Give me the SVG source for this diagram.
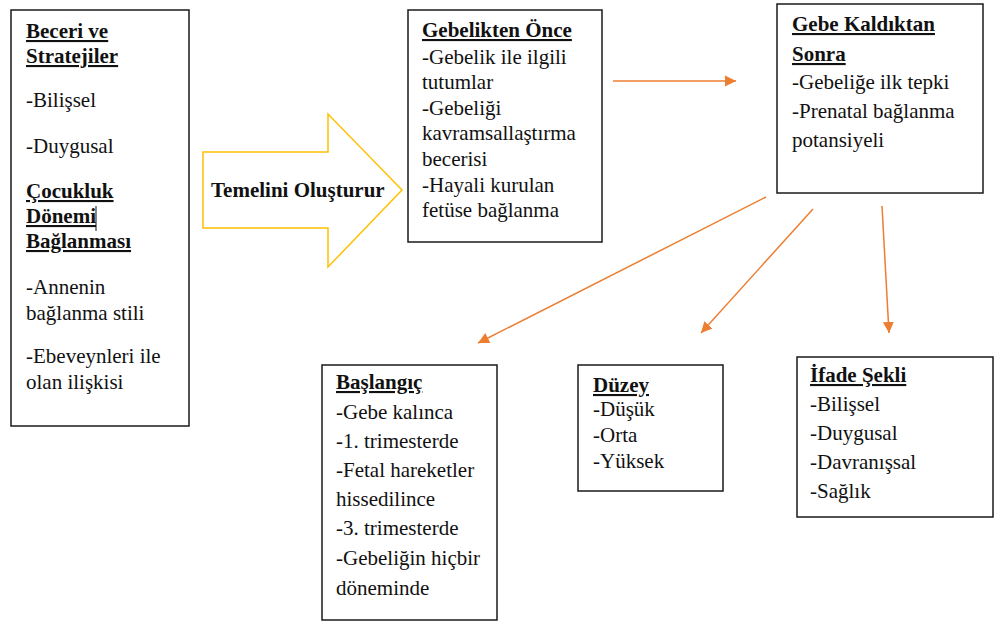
<svg xmlns="http://www.w3.org/2000/svg" width="994" height="621" viewBox="0 0 994 621" font-family="'Liberation Serif', 'DejaVu Serif', serif">
<style>
text{font-family:'Liberation Serif','DejaVu Serif',serif;font-size:21px;fill:#111}
.h{font-weight:bold;text-decoration:underline}
.b{font-weight:bold}
.box{fill:#fff;stroke:#1a1a1a;stroke-width:1.5}
.con{stroke:#ED7D31;stroke-width:1.5;fill:none;marker-end:url(#ah)}
</style>
<defs>
<marker id="ah" markerUnits="userSpaceOnUse" markerWidth="12" markerHeight="12" refX="11" refY="5.5" orient="auto" viewBox="0 0 12 11">
<path d="M0,0 L11,5.5 L0,11 z" fill="#ED7D31"/>
</marker>
</defs>
<rect width="994" height="621" fill="#fff"/>
<g id="beceri">
<rect class="box" x="11" y="10" width="178" height="416"/>
<text class="h" x="26" y="38">Beceri ve</text>
<text class="h" x="26" y="63">Stratejiler</text>
<text x="26" y="107">-Bilişsel</text>
<text x="26" y="153">-Duygusal</text>
<text class="h" x="26" y="198">Çocukluk</text>
<text class="h" x="26" y="223">Dönemi</text>
<line x1="96" y1="206" x2="96" y2="231" stroke="#111" stroke-width="1"/>
<text class="h" x="26" y="248">Bağlanması</text>
<text x="26" y="294">-Annenin</text>
<text x="26" y="320">bağlanma stili</text>
<text x="26" y="363">-Ebeveynleri ile</text>
<text x="26" y="389">olan ilişkisi</text>
</g>
<g id="temelini">
<polygon points="203,152 328,152 328,114 402,190 328,267 328,228 203,228" fill="#fff" stroke="#FFC000" stroke-width="1.5" stroke-linejoin="miter"/>
<text class="b" x="211" y="197">Temelini Oluşturur</text>
</g>
<g id="gebelikten">
<rect class="box" x="408" y="10" width="194" height="232"/>
<text class="h" x="422" y="37">Gebelikten Önce</text>
<text x="422" y="64">-Gebelik ile ilgili</text>
<text x="422" y="89">tutumlar</text>
<text x="422" y="115">-Gebeliği</text>
<text x="422" y="140">kavramsallaştırma</text>
<text x="422" y="166">becerisi</text>
<text x="422" y="192">-Hayali kurulan</text>
<text x="422" y="217">fetüse bağlanma</text>
</g>
<g id="gebe">
<rect class="box" x="777" y="4" width="206" height="189"/>
<text class="h" x="792" y="31">Gebe Kaldıktan</text>
<text class="h" x="792" y="61">Sonra</text>
<text x="792" y="89">-Gebeliğe ilk tepki</text>
<text x="792" y="118">-Prenatal bağlanma</text>
<text x="792" y="147">potansiyeli</text>
</g>
<g id="baslangic">
<rect class="box" x="322" y="365" width="175" height="255"/>
<text class="h" x="336" y="389">Başlangıç</text>
<text x="336" y="419">-Gebe kalınca</text>
<text x="336" y="448">-1. trimesterde</text>
<text x="336" y="477">-Fetal hareketler</text>
<text x="336" y="506">hissedilince</text>
<text x="336" y="535">-3. trimesterde</text>
<text x="336" y="565">-Gebeliğin hiçbir</text>
<text x="336" y="595">döneminde</text>
</g>
<g id="duzey">
<rect class="box" x="578" y="365" width="145" height="126"/>
<text class="h" x="593" y="392">Düzey</text>
<text x="593" y="416">-Düşük</text>
<text x="593" y="442">-Orta</text>
<text x="593" y="468">-Yüksek</text>
</g>
<g id="ifade">
<rect class="box" x="797" y="357" width="196" height="160"/>
<text class="h" x="810" y="382">İfade Şekli</text>
<text x="810" y="411">-Bilişsel</text>
<text x="810" y="440">-Duygusal</text>
<text x="810" y="469">-Davranışsal</text>
<text x="810" y="498">-Sağlık</text>
</g>
<g id="connectors">
<line class="con" x1="613" y1="81" x2="736" y2="81"/>
<line class="con" x1="766" y1="197" x2="478" y2="343"/>
<line class="con" x1="813" y1="209" x2="701" y2="333"/>
<line class="con" x1="882" y1="206" x2="889" y2="333"/>
</g>
</svg>
